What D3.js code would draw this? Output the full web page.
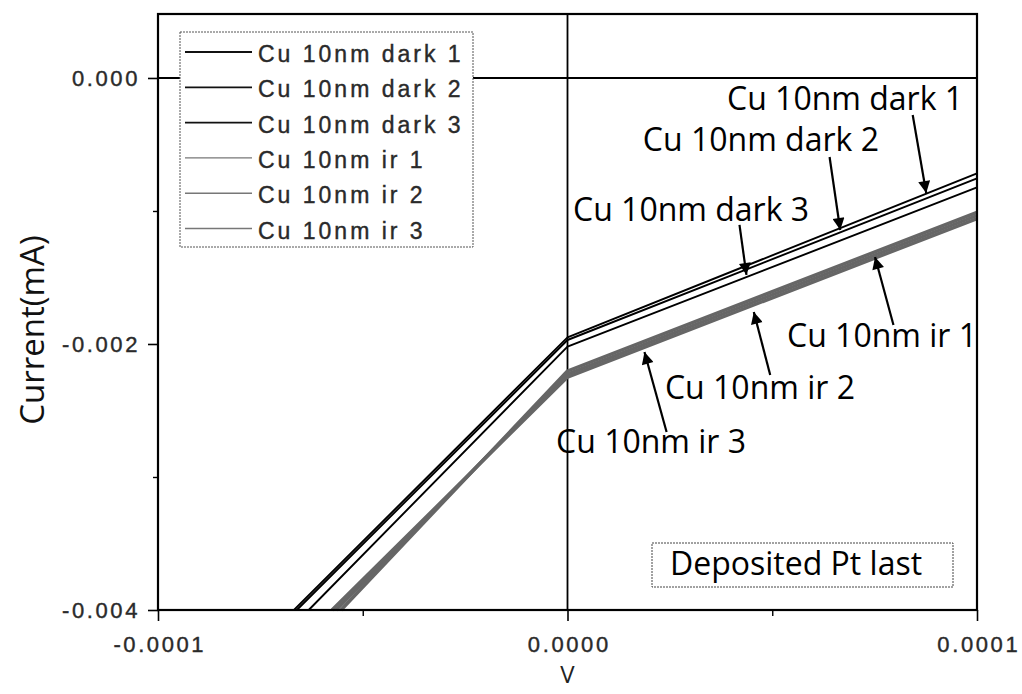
<!DOCTYPE html>
<html>
<head>
<meta charset="utf-8">
<script src="https://cdn.jsdelivr.net/npm/d3@7"></script>
<style>
  html, body { margin: 0; padding: 0; background: #fff; }
  svg { display: block; }
</style>
</head>
<body>
<svg id="chart" width="1022" height="694"></svg>
<script>
// I–V sweeps for the 10 nm Cu samples (voltage in V, current in mA)
const seriesNames = ["Cu 10nm dark 1", "Cu 10nm dark 2", "Cu 10nm dark 3",
                     "Cu 10nm ir 1", "Cu 10nm ir 2", "Cu 10nm ir 3"];
const voltages = {
  "Cu 10nm dark 1": [-6.68e-5, 0, 1e-4],
  "Cu 10nm dark 2": [-6.61e-5, 0, 1e-4],
  "Cu 10nm dark 3": [-6.32e-5, 0, 1e-4],
  "Cu 10nm ir 1":   [-5.53e-5, 0, 1e-4],
  "Cu 10nm ir 2":   [-5.65e-5, 0, 1e-4],
  "Cu 10nm ir 3":   [-5.75e-5, 0, 1e-4]
};
const currents = {
  "Cu 10nm dark 1": [-0.004, -0.00195, -0.000717],
  "Cu 10nm dark 2": [-0.004, -0.00197, -0.000755],
  "Cu 10nm dark 3": [-0.004, -0.00202, -0.000823],
  "Cu 10nm ir 1":   [-0.004, -0.002203, -0.001010],
  "Cu 10nm ir 2":   [-0.004, -0.002226, -0.001034],
  "Cu 10nm ir 3":   [-0.004, -0.002249, -0.001057]
};
const xTicks = [-1e-4, 0, 1e-4];
const xTickLabels = ["-0.0001", "0.0000", "0.0001"];
const xMinorTicks = [-5e-5, 5e-5];
const yTicks = [0, -0.002, -0.004];
const yTickLabels = ["0.000", "-0.002", "-0.004"];
const yMinorTicks = [-0.001, -0.003];

// Arrow callouts: label, text anchor point, arrow tail (V, mA) and arrow tip (V, mA)
const calloutNames = ["Cu 10nm dark 1", "Cu 10nm dark 2", "Cu 10nm dark 3",
                      "Cu 10nm ir 1", "Cu 10nm ir 2", "Cu 10nm ir 3"];
const calloutText = [[3.895e-5, -0.000241], [1.84e-5, -0.000549], [0.134e-5, -0.001075],
                     [5.36e-5, -0.002023], [2.38e-5, -0.002414], [-0.28e-5, -0.00282]];
const calloutTail = [[8.43e-5, -0.000278], [6.4e-5, -0.000594], [4.2e-5, -0.001105],
                     [7.96e-5, -0.001857], [4.95e-5, -0.002233], [2.42e-5, -0.002662]];
const calloutTip  = [[8.76e-5, -0.000865], [6.66e-5, -0.001143], [4.37e-5, -0.001481],
                     [7.51e-5, -0.001346], [4.55e-5, -0.001759], [1.88e-5, -0.002060]];

const svg = d3.select("#chart");
const margin = { left: 158, right: 1022 - 977, top: 14, bottom: 694 - 610 };
const W = 1022, H = 694;

const x = d3.scaleLinear().domain([-1e-4, 1e-4]).range([margin.left, W - margin.right]);
const y = d3.scaleLinear().domain([-0.004, 0.000481]).range([H - margin.bottom, margin.top]);

const tickFont = "'Liberation Sans', Arial, sans-serif";
const labelFont = "'Open Sans', 'Noto Sans', sans-serif";

// zero lines
svg.append("line")
  .attr("x1", x(0)).attr("x2", x(0))
  .attr("y1", y.range()[1]).attr("y2", y.range()[0])
  .attr("stroke", "#000").attr("stroke-width", 1.8);
svg.append("line")
  .attr("x1", x.range()[0]).attr("x2", x.range()[1])
  .attr("y1", y(0)).attr("y2", y(0))
  .attr("stroke", "#000").attr("stroke-width", 1.8);

// data lines
const line = d3.line().x(d => x(d[0])).y(d => y(d[1]));
const isIr = n => n.indexOf(" ir ") >= 0;
const plotted = seriesNames.map(n => ({
  name: n,
  pts: voltages[n].map((v, i) => [v, currents[n][i]])
}));
// ir curves go underneath so the dark curves stay on top
svg.append("g").selectAll("path")
  .data(plotted.filter(d => isIr(d.name)).concat(plotted.filter(d => !isIr(d.name))))
  .join("path")
  .attr("d", d => line(d.pts))
  .attr("fill", "none")
  .attr("stroke", d => isIr(d.name) ? "#666" : "#000")
  .attr("stroke-width", d => isIr(d.name) ? 3.4 : 1.9)
  .attr("stroke-linejoin", "round");

// axes
const yAxis = d3.axisLeft(y).tickValues(yTicks)
  .tickFormat((d, i) => yTickLabels[i]).tickSizeInner(10).tickSizeOuter(0).tickPadding(8);
const gy = svg.append("g").attr("transform", `translate(${x.range()[0]},0)`).call(yAxis);
gy.select(".domain").remove();
gy.selectAll(".tick line").attr("stroke", "#000").attr("stroke-width", 1.6);
gy.selectAll(".tick text")
  .attr("font-family", tickFont).attr("font-size", 22).attr("fill", "#2a2a2a")
  .attr("stroke", "#2a2a2a").attr("stroke-width", 0.4)
  .attr("letter-spacing", 2.6);

const yMinor = d3.axisLeft(y).tickValues(yMinorTicks).tickFormat("").tickSizeInner(5).tickSizeOuter(0);
const gym = svg.append("g").attr("transform", `translate(${x.range()[0]},0)`).call(yMinor);
gym.select(".domain").remove();
gym.selectAll(".tick line").attr("stroke", "#000").attr("stroke-width", 1.4);

const xAxis = d3.axisBottom(x).tickValues(xTicks)
  .tickFormat((d, i) => xTickLabels[i]).tickSizeInner(11).tickSizeOuter(0).tickPadding(15);
const gx = svg.append("g").attr("transform", `translate(0,${y.range()[0]})`).call(xAxis);
gx.select(".domain").remove();
gx.selectAll(".tick line").attr("stroke", "#000").attr("stroke-width", 1.6);
gx.selectAll(".tick text")
  .attr("font-family", tickFont).attr("font-size", 22).attr("fill", "#2a2a2a")
  .attr("stroke", "#2a2a2a").attr("stroke-width", 0.4)
  .attr("letter-spacing", 2.6).attr("dx", 1.3);

const xMinor = d3.axisBottom(x).tickValues(xMinorTicks).tickFormat("").tickSizeInner(6).tickSizeOuter(0);
const gxm = svg.append("g").attr("transform", `translate(0,${y.range()[0]})`).call(xMinor);
gxm.select(".domain").remove();
gxm.selectAll(".tick line").attr("stroke", "#000").attr("stroke-width", 1.4);

// frame
svg.append("rect")
  .attr("x", x.range()[0]).attr("y", y.range()[1])
  .attr("width", x.range()[1] - x.range()[0])
  .attr("height", y.range()[0] - y.range()[1])
  .attr("fill", "none").attr("stroke", "#000").attr("stroke-width", 2.2);

// axis titles
svg.append("text")
  .attr("transform", `translate(44,${(y.range()[0] + y.range()[1]) / 2 + 18}) rotate(-90)`)
  .attr("text-anchor", "middle")
  .attr("font-family", labelFont).attr("font-size", 33).attr("fill", "#111")
  .text("Current(mA)");
svg.append("text")
  .attr("x", x(0)).attr("y", 683)
  .attr("text-anchor", "middle")
  .attr("font-family", labelFont).attr("font-size", 24).attr("fill", "#222")
  .text("V");

// legend
const legend = svg.append("g");
legend.append("rect")
  .attr("x", 180).attr("y", 32).attr("width", 293).attr("height", 215)
  .attr("fill", "#fff").attr("stroke", "#555").attr("stroke-width", 1)
  .attr("stroke-dasharray", "2,1");
const rows = legend.selectAll("g.row").data(seriesNames).join("g")
  .attr("class", "row")
  .attr("transform", (d, i) => `translate(0,${62 + i * 35.3})`);
rows.append("line")
  .attr("x1", 185).attr("x2", 252).attr("y1", -10).attr("y2", -10)
  .attr("stroke", d => isIr(d) ? "#777" : "#111")
  .attr("stroke-width", d => isIr(d) ? 1.4 : 1.8);
rows.append("text")
  .attr("x", 258).attr("y", 0)
  .attr("font-family", tickFont).attr("font-size", 23).attr("fill", "#2a2a2a")
  .attr("stroke", "#2a2a2a").attr("stroke-width", 0.4)
  .attr("letter-spacing", 3)
  .text(d => d);

// callouts with arrows
svg.append("defs").append("marker")
  .attr("id", "head").attr("viewBox", "0 0 10 10")
  .attr("refX", 10).attr("refY", 5)
  .attr("markerWidth", 14).attr("markerHeight", 12)
  .attr("markerUnits", "userSpaceOnUse")
  .attr("orient", "auto")
  .append("path").attr("d", "M0,0 L10,5 L0,10 Z").attr("fill", "#000");

const callouts = svg.append("g");
calloutNames.forEach((name, i) => {
  callouts.append("line")
    .attr("x1", x(calloutTail[i][0])).attr("y1", y(calloutTail[i][1]))
    .attr("x2", x(calloutTip[i][0])).attr("y2", y(calloutTip[i][1]))
    .attr("stroke", "#000").attr("stroke-width", 2.2)
    .attr("marker-end", "url(#head)");
  callouts.append("text")
    .attr("x", x(calloutText[i][0])).attr("y", y(calloutText[i][1]))
    .attr("font-family", labelFont).attr("font-size", 32).attr("fill", "#000")
    .text(name);
});

// annotation box
const note = svg.append("g");
note.append("rect")
  .attr("x", 652).attr("y", 543).attr("width", 301).attr("height", 44)
  .attr("fill", "#fff").attr("stroke", "#444").attr("stroke-width", 1)
  .attr("stroke-dasharray", "2,1");
note.append("text")
  .attr("x", 670).attr("y", 575)
  .attr("font-family", labelFont).attr("font-size", 32).attr("fill", "#000")
  .text("Deposited Pt last");
</script>
</body>
</html>
